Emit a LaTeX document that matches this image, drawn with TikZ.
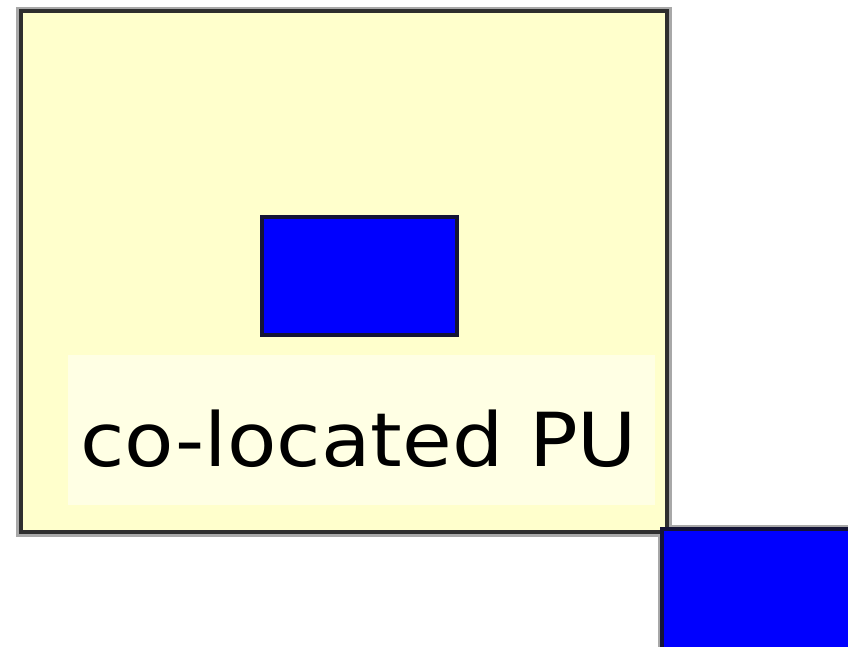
\documentclass[tikz,border=0pt]{standalone}
\usepackage{fontspec}
\newfontfamily\labelfont[FakeStretch=1.085]{DejaVu Sans}
\definecolor{padyellow}{HTML}{FFFFCC}
\definecolor{labelbg}{HTML}{FFFFE4}
\definecolor{edgedark}{HTML}{2E2E2E}
\definecolor{halogray}{HTML}{A8A8A8}
\definecolor{bluefill}{HTML}{0000FF}
\definecolor{blueedge}{HTML}{141436}
\definecolor{bluehalo}{HTML}{CACA9C}
\tikzset{
  x=1pt, y=-1pt,
  framebox/.style={rectangle, inner sep=0pt, fill=padyellow, draw=edgedark, line width=4pt},
  unitbox/.style={rectangle, inner sep=0pt, fill=bluefill, draw=blueedge, line width=4pt},
  labelpanel/.style={rectangle, inner sep=0pt, fill=labelbg},
  labeltext/.style={inner sep=0pt, font=\labelfont\fontsize{74.5}{82}\selectfont, text=black},
}
\begin{document}
\begin{tikzpicture}
  \useasboundingbox (0,0) rectangle (848,646);
  \clip (0,0) rectangle (848,646);
  \fill[white] (0,0) rectangle (848,646);

  % soft grey rims behind the outlined boxes
  \draw[halogray, line width=9pt] (20.5,11) rectangle (667,532);
  \draw[halogray, line width=9pt] (662,529) rectangle (1000,800);
  \draw[bluehalo, line width=7pt] (262,217) rectangle (457,335);

  % the enclosing area
  \node[framebox, minimum width=646.5pt, minimum height=521pt] (area) at (343.75,271.5) {};

  % light panel behind the caption
  \node[labelpanel, minimum width=587pt, minimum height=150pt] (panel) at (361.5,430) {};
  \node[labeltext, anchor=base west] (caption) at (80,466) {co-located PU};

  % processing units
  \node[unitbox, minimum width=195pt, minimum height=118pt] (pu) at (359.5,276) {};
  \node[unitbox, minimum width=338pt, minimum height=271pt] (other) at (831,664.5) {};
\end{tikzpicture}
\end{document}
